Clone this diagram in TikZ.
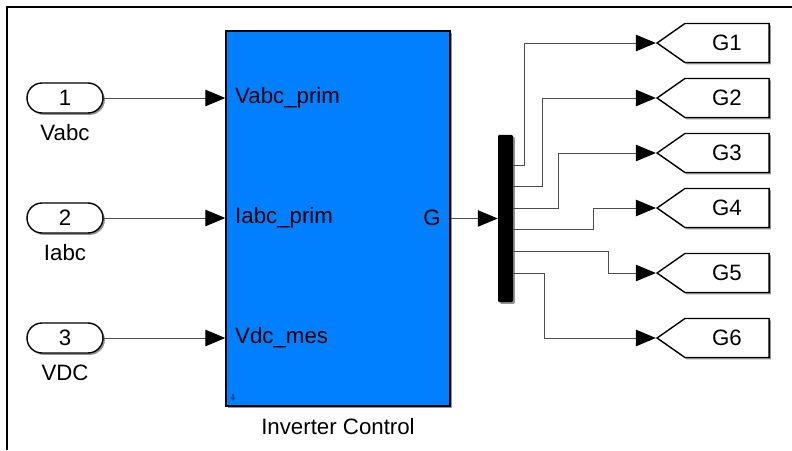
\documentclass[tikz,border=0pt]{standalone}
\usepackage{fontspec}
\setmainfont{Liberation Sans}
\usetikzlibrary{arrows.meta,shapes.misc,shapes.symbols,shadows}
\definecolor{blockblue}{RGB}{0,128,255}
\tikzset{
  sig/.style={draw=black!70, line width=0.8pt, -{Triangle[length=17pt,width=14pt,black]}},
  shadowed/.style={drop shadow={shadow xshift=1.6pt, shadow yshift=-1.6pt, fill=black!70, opacity=0.6}},
  inport/.style={rounded rectangle, draw, line width=1.2pt, fill=white, shadowed,
    minimum width=2.28cm, minimum height=0.9cm, inner sep=0pt},
  gotoblk/.style={signal, signal to=west, signal pointer angle=70, draw, line width=1.2pt,
    fill=white, shadowed, minimum width=3.36cm, minimum height=1.17cm, inner sep=0pt},
  ctrlblk/.style={draw, line width=1.2pt, fill=blockblue, shadowed,
    minimum width=6.72cm, minimum height=11.25cm, inner sep=0pt},
  busbar/.style={fill=black, rounded corners=1pt, shadowed,
    minimum width=0.45cm, minimum height=5.01cm, inner sep=0pt},
  lbl/.style={inner sep=0pt}
}
\begin{document}
\fontsize{19}{22}\selectfont
\begin{tikzpicture}[x=0.03cm, y=-0.03cm]
\useasboundingbox (0,0) rectangle (792,450);
% frame
\draw[line width=1.7pt] (7,450) -- (7,7) -- (792,7);

% inputs
\node[inport] (in1) at (65,98) {1};
\node[inport] (in2) at (65,218) {2};
\node[inport] (in3) at (65,338) {3};
\node[lbl] (n1) at (65,133) {Vabc};
\node[lbl] (n2) at (65,253) {Iabc};
\node[lbl] (n3) at (65,373) {VDC};

% controller
\node[ctrlblk] (ctrl) at (338,218.5) {};
\node[lbl, anchor=west] (p1) at (235,98) {Vabc\_prim};
\node[lbl, anchor=west] (p2) at (235,218) {Iabc\_prim};
\node[lbl, anchor=west] (p3) at (235,338) {Vdc\_mes};
\node[lbl, anchor=east] (pg) at (441,218) {G};
\node[lbl] (cname) at (338,427) {Inverter Control};
\draw[blockblue!60!black, line width=1pt, -{Triangle[length=3pt,width=4pt]}] (233,394) -- (233,401);

\draw[sig] (in1.east) -- (in1 -| ctrl.west);
\draw[sig] (in2.east) -- (in2 -| ctrl.west);
\draw[sig] (in3.east) -- (in3 -| ctrl.west);

% demux
\node[busbar] (bus) at (505.5,218.5) {};
\draw[sig] (ctrl.east) -- (bus.west);

% goto blocks
\foreach \i/\t in {1/43, 2/98, 3/153, 4/208, 5/273, 6/338}
  \node[gotoblk] (g\i) at (727,\t) {G\i};

\foreach \i/\y/\x in {1/165/524, 2/186/542, 3/208/558, 4/229/593, 5/251/608, 6/273/544} {
  \coordinate (b\i) at (bus.east |- 0,\y);
  \coordinate (k\i) at (\x,\y);
  \draw[sig] (b\i) -- (k\i) |- (g\i.west);
}
\end{tikzpicture}
\end{document}
